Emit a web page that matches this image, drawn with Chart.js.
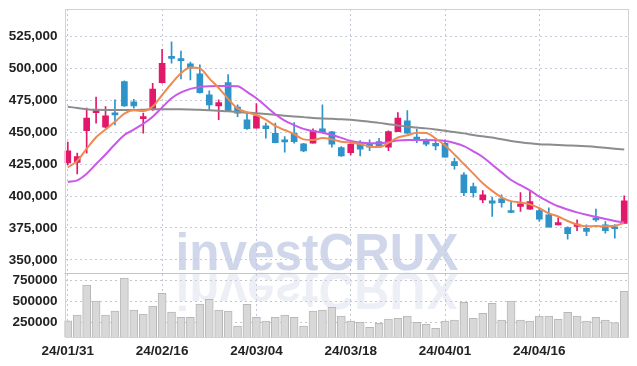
<!DOCTYPE html>
<html>
<head>
<meta charset="utf-8">
<script src="https://cdn.jsdelivr.net/npm/chart.js@4.4.1/dist/chart.umd.min.js"></script>
<style>
  html, body { margin: 0; padding: 0; background: #fff; }
</style>
</head>
<body>
<canvas id="stockChart" width="637" height="366"></canvas>
<script>
// tick labels
const dateTicks = ['24/01/31', '24/02/16', '24/03/04', '24/03/18', '24/04/01', '24/04/16'];
const priceTicks = [350000, 375000, 400000, 425000, 450000, 475000, 500000, 525000];
const volumeTicks = [250000, 500000, 750000];

// daily candles (60 trading days)
const openVals = [425800, 426200, 451200, 465200, 453800, 464800, 489400, 473600, 460500, 467900,
  488700, 508400, 507200, 503300, 495500, 479100, 470500, 488700, 469600, 459500,
  453000, 454800, 449100, 443100, 449100, 440800, 441300, 452500, 450200, 437900,
  434000, 441800, 441300, 442600, 438200, 450400, 458800, 446000, 443400, 441300,
  441300, 427000, 416600, 407400, 397000, 396200, 397800, 387700, 391800, 389800,
  388700, 385300, 377500, 375300, 376200, 374700, 381900, 377500, 375000, 378500];
const closeVals = [435400, 430900, 460900, 466800, 462700, 463400, 470500, 470500, 461300, 483700,
  503800, 507600, 505900, 499900, 480900, 471300, 473000, 466200, 464800, 452700,
  462700, 452700, 441800, 442300, 442600, 435300, 450900, 449900, 440500, 431400,
  440500, 436600, 438200, 438700, 450400, 460900, 449100, 443900, 440500, 439200,
  430400, 423800, 402700, 402700, 400900, 394500, 394900, 387100, 393900, 395700,
  381900, 375700, 379300, 370500, 378000, 372400, 381300, 373000, 374400, 396200];
const highVals = [442100, 433500, 468700, 477300, 469900, 475200, 490000, 475700, 464800, 488200,
  514800, 520500, 513400, 504800, 502500, 482200, 475200, 494900, 471300, 464800,
  472200, 457000, 457000, 446500, 457400, 441300, 452500, 471300, 450600, 438700,
  442600, 443400, 443900, 445200, 450900, 465200, 466800, 452300, 444700, 443900,
  443900, 429600, 418400, 410100, 404300, 399200, 400900, 395700, 402700, 403500,
  390800, 390800, 382900, 375900, 381400, 377500, 389800, 380100, 377600, 400100];
const lowVals = [424400, 417300, 433500, 456900, 453000, 455700, 470000, 468700, 449100, 467000,
  488200, 503800, 491600, 490800, 480500, 467300, 459700, 466000, 462000, 452000,
  453000, 445200, 441500, 434300, 441300, 434700, 441300, 449700, 438200, 430900,
  432200, 431400, 435500, 438500, 435500, 450400, 449000, 441800, 439200, 436100,
  430300, 421000, 400200, 399200, 394900, 384000, 391300, 387000, 387900, 389600,
  380100, 375600, 377400, 366300, 373000, 369000, 380100, 371000, 367100, 378400];

// moving averages
const maShort = [422300, 427500, 437000, 446000, 452000, 458000, 464500, 467000, 466500, 470000,
  479000, 488000, 496000, 500500, 499800, 492000, 484500, 476000, 468500, 465500,
  463400, 459700, 454800, 451600, 448500, 444300, 443800, 445300, 444300, 442500,
  441700, 440700, 438800, 438300, 441500, 445800, 447500, 449500, 449200, 445000,
  439500, 432500, 425000, 417500, 410000, 404000, 399000, 396000, 395000, 393500,
  390500, 386500, 384000, 380500, 377800, 376300, 376500, 376400, 376800, 379000];
const maMid = [411000, 412300, 417500, 425000, 432500, 440500, 447700, 452000, 456500, 462000,
  469300, 476500, 481000, 483800, 485300, 485900, 486000, 486000, 485800, 481400,
  476500, 470200, 464000, 459000, 455500, 452500, 450800, 449500, 447700, 445500,
  443000, 441800, 441300, 441300, 442000, 443500, 443900, 443900, 443900, 443600,
  443000, 441500, 439000, 435000, 430500, 424500, 418500, 412500, 408500, 404500,
  399500, 395500, 392000, 389500, 387200, 385300, 383800, 382100, 380500, 379200];
const maLong = [469900, 468800, 467900, 467400, 467300, 467300, 467300, 467300, 467500, 467800,
  467900, 467900, 467900, 467700, 467400, 467100, 466700, 466200, 465700, 465200,
  464700, 464100, 463500, 462800, 462200, 461700, 461100, 460700, 460400, 460100,
  459600, 458900, 458000, 457200, 456200, 455200, 454200, 453500, 452900, 452100,
  451000, 450000, 449000, 447700, 446700, 445700, 444400, 443100, 442000, 441200,
  440500, 440200, 439900, 439600, 439300, 438900, 438400, 437700, 437000, 436300];

// volume
const volumes = [269000, 337800, 698300, 506000, 337800, 385800, 782400, 397800, 349800, 445900,
  598500, 373800, 310100, 310100, 470000, 526400, 397800, 385800, 205500, 466300,
  310100, 265600, 310100, 337800, 310100, 205500, 385800, 397800, 430300, 326000,
  265600, 250000, 190000, 238000, 289700, 298100, 326000, 250000, 226000, 177900,
  265600, 277600, 490400, 298100, 358200, 478400, 277600, 506000, 277600, 265600,
  326000, 326000, 286000, 370200, 326000, 265600, 310100, 277600, 245200, 622600];

const FONT = "'Liberation Sans', Arial, sans-serif";
const tickFont = { family: FONT, size: 13.5, weight: 'bold' };
// small line height keeps the y axes from padding the chart top
const yTickFont = { family: FONT, size: 13.5, weight: 'bold', lineHeight: 0.2 };
const upColor = '#e2196b';
const downColor = '#2d93c8';
const idx = openVals.map((_, i) => i);
const candleColors = idx.map(i => closeVals[i] >= openVals[i] ? upColor : downColor);
const toPoints = arr => arr.map((v, i) => ({ x: i, y: v }));

// watermark + frame
const decor = {
    id: 'decor',
    beforeDatasetsDraw(chart) {
        const ctx = chart.ctx;
        const text = 'investCRUX';
        const cx = 317, base = 270, targetW = 283;
        ctx.save();
        ctx.font = "bold 51px 'Liberation Sans', Arial, sans-serif";
        const w = ctx.measureText(text).width;
        const sx = targetW / w;
        ctx.textAlign = 'center';
        ctx.textBaseline = 'alphabetic';
        // main text
        ctx.save();
        ctx.translate(cx, base);
        ctx.scale(sx, 1);
        ctx.fillStyle = 'rgba(192, 201, 228, 0.75)';
        ctx.fillText(text, 0, 0);
        ctx.restore();
        // reflection
        ctx.save();
        ctx.translate(cx, base + 3);
        ctx.scale(sx, -1);
        ctx.fillStyle = 'rgba(210, 216, 234, 0.4)';
        ctx.fillText(text, 0, 0);
        ctx.restore();
        ctx.restore();
    },
    afterDraw(chart) {
        const { ctx, chartArea } = chart;
        const sep = chart.scales.y.bottom;
        ctx.save();
        ctx.strokeStyle = '#d2d2d6';
        ctx.lineWidth = 1;
        ctx.strokeRect(Math.round(chartArea.left) + 0.5, Math.round(chartArea.top) + 0.5,
            Math.round(chartArea.right - chartArea.left) - 1, Math.round(chartArea.bottom - chartArea.top));
        ctx.strokeStyle = '#c4c4c8';
        ctx.beginPath();
        ctx.moveTo(chartArea.left, Math.round(sep) + 0.5);
        ctx.lineTo(chartArea.right, Math.round(sep) + 0.5);
        ctx.stroke();
        ctx.restore();
    }
};

const ctx = document.getElementById('stockChart').getContext('2d');
new Chart(ctx, {
    data: {
        datasets: [
            {
                type: 'line', label: 'MA5', data: toPoints(maShort), yAxisID: 'y', xAxisID: 'x',
                borderColor: '#ef8a52', borderWidth: 2, pointRadius: 0,
                cubicInterpolationMode: 'monotone', order: 1
            },
            {
                type: 'line', label: 'MA20', data: toPoints(maMid), yAxisID: 'y', xAxisID: 'x',
                borderColor: '#c957ea', borderWidth: 2, pointRadius: 0,
                cubicInterpolationMode: 'monotone', order: 1
            },
            {
                type: 'line', label: 'MA60', data: toPoints(maLong), yAxisID: 'y', xAxisID: 'x',
                borderColor: '#8c8c8c', borderWidth: 2, pointRadius: 0,
                cubicInterpolationMode: 'monotone', order: 1
            },
            {
                type: 'bar', label: 'body', yAxisID: 'y', xAxisID: 'x',
                data: idx.map(i => ({ x: i, y: [openVals[i], closeVals[i]] })),
                backgroundColor: candleColors, barThickness: 6, minBarLength: 2,
                grouped: false, order: 2
            },
            {
                type: 'bar', label: 'wick', yAxisID: 'y', xAxisID: 'x',
                data: idx.map(i => ({ x: i, y: [lowVals[i], highVals[i]] })),
                backgroundColor: candleColors, barThickness: 1,
                grouped: false, order: 3
            },
            {
                type: 'bar', label: 'volume', yAxisID: 'yVol', xAxisID: 'x',
                data: toPoints(volumes),
                backgroundColor: '#d8d8d8', borderColor: '#b8b8b8', borderWidth: 1,
                barThickness: 8, grouped: false, order: 4
            }
        ]
    },
    options: {
        responsive: false,
        animation: false,
        layout: { padding: { top: 9, right: 9, left: 0, bottom: 0 } },
        plugins: {
            legend: { display: false },
            tooltip: { enabled: false }
        },
        scales: {
            x: {
                type: 'linear',
                offset: false,
                min: -0.35,
                max: 59.4,
                afterBuildTicks: a => { a.ticks = dateTicks.map((_, k) => ({ value: k * 10 })); },
                afterFit: a => { a.height = 29; },
                ticks: {
                    callback: v => dateTicks[Math.round(v / 10)],
                    autoSkip: false, maxRotation: 0, padding: 6,
                    color: '#222', font: tickFont
                },
                grid: { color: '#c2c6d4', drawTicks: false, offset: false },
                border: { display: false, dash: [2, 3] }
            },
            yVol: {
                type: 'linear',
                position: 'left',
                stack: 'panels',
                stackWeight: 64.5,
                min: 73300,
                max: 848600,
                afterBuildTicks: a => { a.ticks = volumeTicks.map(v => ({ value: v })); },
                afterFit: a => { a.width = 64.5; },
                ticks: {
                    callback: v => String(v),
                    autoSkip: false,
                    padding: 7, color: '#222', font: yTickFont
                },
                grid: { color: '#c4c6cc', drawTicks: false },
                border: { display: false, dash: [2, 3] }
            },
            y: {
                type: 'linear',
                position: 'left',
                stack: 'panels',
                stackWeight: 263.5,
                min: 340200,
                max: 546250,
                afterBuildTicks: a => { a.ticks = priceTicks.map(v => ({ value: v })); },
                afterFit: a => { a.width = 64.5; },
                ticks: {
                    callback: v => v.toLocaleString('en-US'),
                    autoSkip: false,
                    padding: 7, color: '#222', font: yTickFont
                },
                grid: { color: '#c5cadc', drawTicks: false },
                border: { display: false, dash: [2, 3] }
            }
        }
    },
    plugins: [decor]
});
</script>
</body>
</html>
